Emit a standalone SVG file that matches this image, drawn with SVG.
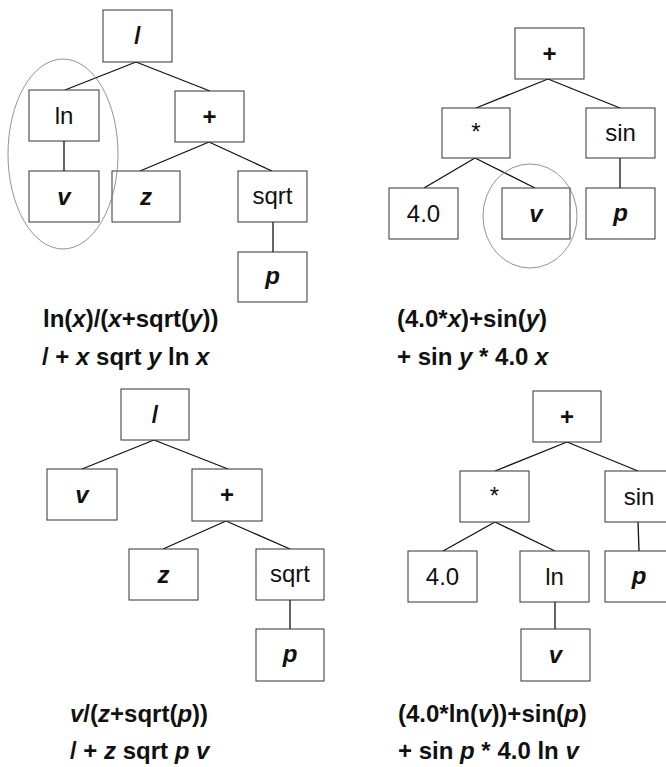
<svg xmlns="http://www.w3.org/2000/svg" width="666" height="767" viewBox="0 0 666 767">
<style>
.box{fill:#fff;stroke:#333;stroke-width:1}
.lbl{font-family:"Liberation Sans",Arial,sans-serif;font-size:24px;text-anchor:middle;fill:#111}
.var{font-weight:bold;font-style:italic}
.op{font-weight:bold}
.edge{stroke:#111;stroke-width:1.3;fill:none}
.ring{fill:none;stroke:#777;stroke-width:0.8}
.cap{font-family:"Liberation Sans",Arial,sans-serif;font-size:24px;font-weight:bold;fill:#111}
.it{font-style:italic}
</style>
<g id="connectors">
<line class="edge" x1="136" y1="62" x2="65" y2="90"/>
<line class="edge" x1="136" y1="62" x2="210" y2="91"/>
<line class="edge" x1="64" y1="141" x2="64" y2="171"/>
<line class="edge" x1="209" y1="142" x2="140" y2="171"/>
<line class="edge" x1="209" y1="142" x2="272" y2="171"/>
<line class="edge" x1="273" y1="222" x2="273" y2="252"/>
<line class="edge" x1="548" y1="79" x2="476" y2="108"/>
<line class="edge" x1="548" y1="79" x2="620" y2="108"/>
<line class="edge" x1="475" y1="158" x2="424" y2="188"/>
<line class="edge" x1="475" y1="158" x2="535" y2="188"/>
<line class="edge" x1="620" y1="158" x2="620" y2="188"/>
<line class="edge" x1="154" y1="440" x2="82" y2="469"/>
<line class="edge" x1="154" y1="440" x2="228" y2="469"/>
<line class="edge" x1="226" y1="521" x2="163" y2="549"/>
<line class="edge" x1="226" y1="521" x2="290" y2="549"/>
<line class="edge" x1="290" y1="600" x2="290" y2="629"/>
<line class="edge" x1="567" y1="442" x2="495" y2="471"/>
<line class="edge" x1="567" y1="442" x2="638" y2="471"/>
<line class="edge" x1="495" y1="522" x2="443" y2="551"/>
<line class="edge" x1="495" y1="522" x2="555" y2="551"/>
<line class="edge" x1="638" y1="522" x2="639" y2="551"/>
<line class="edge" x1="555" y1="602" x2="555" y2="629"/>
</g>
<!-- Tree 1 -->
<g id="t1_div"><rect class="box" x="103" y="10" width="69" height="52"/><text class="lbl op" x="137.5" y="44">/</text></g>
<g id="t1_ln"><rect class="box" x="29" y="90" width="70" height="51"/><text class="lbl" x="64" y="124">ln</text></g>
<g id="t1_plus"><rect class="box" x="175" y="91" width="69" height="51"/><text class="lbl op" x="209.5" y="125">+</text></g>
<g id="t1_v"><rect class="box" x="29" y="171" width="70" height="51"/><text class="lbl var" x="64" y="205">v</text></g>
<g id="t1_z"><rect class="box" x="112" y="171" width="68" height="51"/><text class="lbl var" x="146" y="205">z</text></g>
<g id="t1_sqrt"><rect class="box" x="238" y="171" width="69" height="51"/><text class="lbl" x="272.5" y="204">sqrt</text></g>
<g id="t1_p"><rect class="box" x="238" y="252" width="69" height="50"/><text class="lbl var" x="272.5" y="284">p</text></g>
<ellipse class="ring" cx="63" cy="154" rx="55" ry="95"/>
<!-- Tree 2 -->
<g id="t2_plus"><rect class="box" x="515" y="28" width="69" height="51"/><text class="lbl op" x="549.5" y="62">+</text></g>
<g id="t2_mul"><rect class="box" x="442" y="108" width="68" height="50"/><text class="lbl" x="476" y="140">*</text></g>
<g id="t2_sin"><rect class="box" x="586" y="108" width="69" height="50"/><text class="lbl" x="620.5" y="141">sin</text></g>
<g id="t2_four"><rect class="box" x="389" y="188" width="69" height="51"/><text class="lbl" x="423.5" y="222">4.0</text></g>
<g id="t2_v"><rect class="box" x="502" y="188" width="68" height="51"/><text class="lbl var" x="536" y="222">v</text></g>
<g id="t2_p"><rect class="box" x="586" y="188" width="69" height="51"/><text class="lbl var" x="620.5" y="221">p</text></g>
<ellipse class="ring" cx="530" cy="216" rx="47" ry="52"/>
<!-- Tree 3 -->
<g id="t3_div"><rect class="box" x="121" y="389" width="68" height="51"/><text class="lbl op" x="155" y="423">/</text></g>
<g id="t3_v"><rect class="box" x="47" y="469" width="70" height="51"/><text class="lbl var" x="82" y="503">v</text></g>
<g id="t3_plus"><rect class="box" x="192" y="469" width="70" height="52"/><text class="lbl op" x="227" y="503">+</text></g>
<g id="t3_z"><rect class="box" x="129" y="549" width="69" height="51"/><text class="lbl var" x="163.5" y="583">z</text></g>
<g id="t3_sqrt"><rect class="box" x="256" y="549" width="68" height="51"/><text class="lbl" x="290" y="582">sqrt</text></g>
<g id="t3_p"><rect class="box" x="256" y="629" width="68" height="52"/><text class="lbl var" x="290" y="662">p</text></g>
<!-- Tree 4 -->
<g id="t4_plus"><rect class="box" x="533" y="391" width="68" height="51"/><text class="lbl op" x="567" y="425">+</text></g>
<g id="t4_mul"><rect class="box" x="460" y="471" width="69" height="51"/><text class="lbl" x="494.5" y="504">*</text></g>
<g id="t4_sin"><rect class="box" x="605" y="471" width="70" height="51"/><text class="lbl" x="639" y="505">sin</text></g>
<g id="t4_four"><rect class="box" x="408" y="551" width="69" height="51"/><text class="lbl" x="442.5" y="585">4.0</text></g>
<g id="t4_ln"><rect class="box" x="520" y="551" width="69" height="51"/><text class="lbl" x="554.5" y="585">ln</text></g>
<g id="t4_p"><rect class="box" x="605" y="551" width="70" height="51"/><text class="lbl var" x="639" y="584">p</text></g>
<g id="t4_v"><rect class="box" x="521" y="629" width="69" height="52"/><text class="lbl var" x="555.5" y="663">v</text></g>
<!-- Captions -->
<g id="captions">
<text class="cap" x="43" y="327">ln(<tspan class="it">x</tspan>)/(<tspan class="it">x</tspan>+sqrt(<tspan class="it">y</tspan>))</text>
<text class="cap" x="42" y="365">/ + <tspan class="it">x</tspan> sqrt <tspan class="it">y</tspan> ln <tspan class="it">x</tspan></text>
<text class="cap" x="397" y="327">(4.0*<tspan class="it">x</tspan>)+sin(<tspan class="it">y</tspan>)</text>
<text class="cap" x="397" y="365">+ sin <tspan class="it">y</tspan> * 4.0 <tspan class="it">x</tspan></text>
<text class="cap" x="70" y="722"><tspan class="it">v</tspan>/(<tspan class="it">z</tspan>+sqrt(<tspan class="it">p</tspan>))</text>
<text class="cap" x="70" y="759">/ + <tspan class="it">z</tspan> sqrt <tspan class="it">p</tspan> <tspan class="it">v</tspan></text>
<text class="cap" x="398" y="722">(4.0*ln(<tspan class="it">v</tspan>))+sin(<tspan class="it">p</tspan>)</text>
<text class="cap" x="398" y="759">+ sin <tspan class="it">p</tspan> * 4.0 ln <tspan class="it">v</tspan></text>
</g>
</svg>
